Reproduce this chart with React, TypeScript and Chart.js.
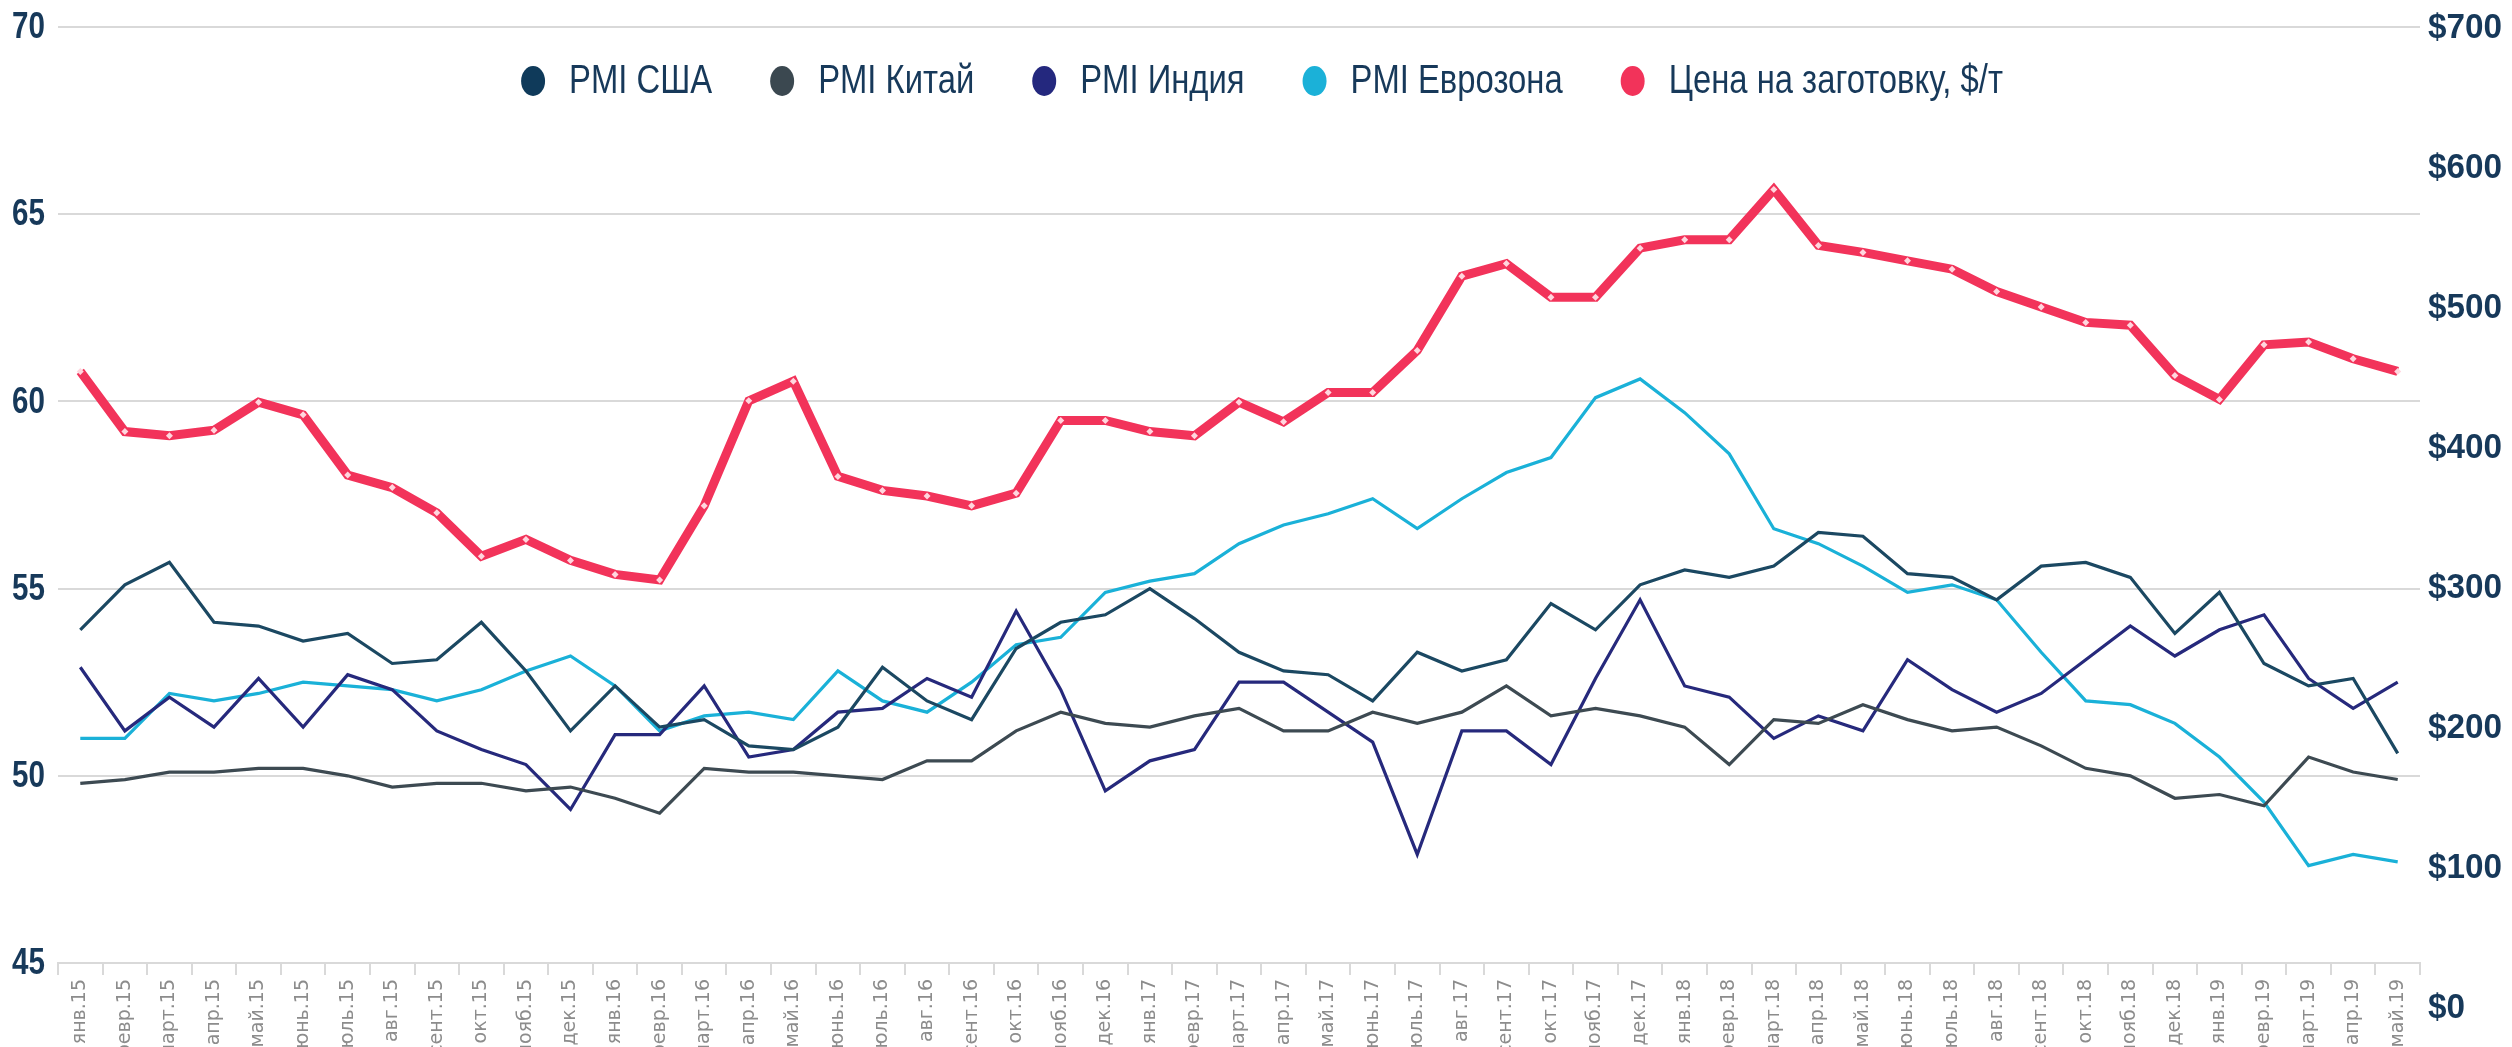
import React, { useEffect, useRef } from 'react';
import { Chart, registerables } from 'chart.js';

Chart.register(...registerables);

// ---------- data ----------
const months = [
  'янв.15', 'февр.15', 'март.15', 'апр.15', 'май.15', 'июнь.15', 'июль.15', 'авг.15', 'сент.15', 'окт.15', 'нояб.15', 'дек.15',
  'янв.16', 'февр.16', 'март.16', 'апр.16', 'май.16', 'июнь.16', 'июль.16', 'авг.16', 'сент.16', 'окт.16', 'нояб.16', 'дек.16',
  'янв.17', 'февр.17', 'март.17', 'апр.17', 'май.17', 'июнь.17', 'июль.17', 'авг.17', 'сент.17', 'окт.17', 'нояб.17', 'дек.17',
  'янв.18', 'февр.18', 'март.18', 'апр.18', 'май.18', 'июнь.18', 'июль.18', 'авг.18', 'сент.18', 'окт.18', 'нояб.18', 'дек.18',
  'янв.19', 'февр.19', 'март.19', 'апр.19', 'май.19',
];

const pmiUSA = [
  53.9, 55.1, 55.7, 54.1, 54.0, 53.6, 53.8, 53.0, 53.1, 54.1, 52.8, 51.2,
  52.4, 51.3, 51.5, 50.8, 50.7, 51.3, 52.9, 52.0, 51.5, 53.4, 54.1, 54.3,
  55.0, 54.2, 53.3, 52.8, 52.7, 52.0, 53.3, 52.8, 53.1, 54.6, 53.9, 55.1,
  55.5, 55.3, 55.6, 56.5, 56.4, 55.4, 55.3, 54.7, 55.6, 55.7, 55.3, 53.8,
  54.9, 53.0, 52.4, 52.6, 50.6,
];

const pmiChina = [
  49.8, 49.9, 50.1, 50.1, 50.2, 50.2, 50.0, 49.7, 49.8, 49.8, 49.6, 49.7,
  49.4, 49.0, 50.2, 50.1, 50.1, 50.0, 49.9, 50.4, 50.4, 51.2, 51.7, 51.4,
  51.3, 51.6, 51.8, 51.2, 51.2, 51.7, 51.4, 51.7, 52.4, 51.6, 51.8, 51.6,
  51.3, 50.3, 51.5, 51.4, 51.9, 51.5, 51.2, 51.3, 50.8, 50.2, 50.0, 49.4,
  49.5, 49.2, 50.5, 50.1, 49.9,
];

const pmiIndia = [
  52.9, 51.2, 52.1, 51.3, 52.6, 51.3, 52.7, 52.3, 51.2, 50.7, 50.3, 49.1,
  51.1, 51.1, 52.4, 50.5, 50.7, 51.7, 51.8, 52.6, 52.1, 54.4, 52.3, 49.6,
  50.4, 50.7, 52.5, 52.5, 51.7, 50.9, 47.9, 51.2, 51.2, 50.3, 52.6, 54.7,
  52.4, 52.1, 51.0, 51.6, 51.2, 53.1, 52.3, 51.7, 52.2, 53.1, 54.0, 53.2,
  53.9, 54.3, 52.6, 51.8, 52.5,
];

const pmiEurozone = [
  51.0, 51.0, 52.2, 52.0, 52.2, 52.5, 52.4, 52.3, 52.0, 52.3, 52.8, 53.2,
  52.4, 51.2, 51.6, 51.7, 51.5, 52.8, 52.0, 51.7, 52.5, 53.5, 53.7, 54.9,
  55.2, 55.4, 56.2, 56.7, 57.0, 57.4, 56.6, 57.4, 58.1, 58.5, 60.1, 60.6,
  59.7, 58.6, 56.6, 56.2, 55.6, 54.9, 55.1, 54.7, 53.3, 52.0, 51.9, 51.4,
  50.5, 49.3, 47.6, 47.9, 47.7,
];

const billetPrice = [
  454, 411, 408, 412, 432, 423, 380, 371, 353, 322, 334, 319,
  309, 305, 358, 433, 447, 379, 369, 365, 358, 367, 419, 419,
  411, 408, 432, 418, 439, 439, 469, 522, 531, 507, 507, 542,
  548, 548, 584, 544, 539, 533, 527, 511, 500, 489, 487, 451,
  434, 473, 475, 463, 454,
];

const seriesLabels = ['PMI США', 'PMI Китай', 'PMI Индия', 'PMI Еврозона', 'Цена на заготовку, $/т'];
const leftTicks = [45, 50, 55, 60, 65, 70];
const rightTicks = [0, 100, 200, 300, 400, 500, 600, 700];

// ---------- style ----------
const W = 2512;
const H = 1047;
const FONT = "'Liberation Sans', Arial, sans-serif";
const CONDENSE = 0.8;
const NAVY = '#17395a';
const GRID = '#d9d9d9';
const lineColors = ['#1b4862', '#3d4a52', '#26297c', '#1ab1d8', '#f2335a'];
const dotColors = ['#0f3a5a', '#3b4850', '#24287e', '#1bb1d8', '#f2335a'];
const PLOT_TOP = 27;
const PLOT_BOTTOM = 963;
const PLOT_LEFT = 58;
const PLOT_RIGHT = 2420;
const LEGEND_CENTER_X = W / 2 + 30;
const RIGHT_AXIS_MAX = 700;
// right axis: $0 label sits 44px below the plot floor (140px per $100)
const RIGHT_AXIS_BOTTOM = RIGHT_AXIS_MAX - (PLOT_BOTTOM - PLOT_TOP) / 1.4;

function condensedText(ctx: CanvasRenderingContext2D, text: string, x: number, y: number, k = CONDENSE) {
  ctx.save();
  ctx.translate(x, y);
  ctx.scale(k, 1);
  ctx.fillText(text, 0, 0);
  ctx.restore();
}

export default function App() {
  const ref = useRef<HTMLCanvasElement | null>(null);

  useEffect(() => {
    const canvas = ref.current;
    if (!canvas) return;

    const bgPlugin = {
      id: 'bg',
      beforeDraw(chart: any) {
        const ctx = chart.ctx;
        ctx.save();
        ctx.fillStyle = '#ffffff';
        ctx.fillRect(0, 0, chart.width, chart.height);
        ctx.restore();
      },
    };

    const axisLabels = {
      id: 'axisLabels',
      afterDraw(chart: any) {
        const ctx = chart.ctx;
        const sl = chart.scales.y;
        const sr = chart.scales.y1;
        ctx.save();
        ctx.font = `bold 37px ${FONT}`;
        ctx.fillStyle = NAVY;
        ctx.textBaseline = 'middle';
        ctx.textAlign = 'right';
        leftTicks.forEach((v) => condensedText(ctx, String(v), chart.chartArea.left - 13, sl.getPixelForValue(v) + 1));
        ctx.font = `bold 35px ${FONT}`;
        ctx.textAlign = 'left';
        const xr = chart.chartArea.right + 8;
        rightTicks.forEach((v) => condensedText(ctx, '$' + v, xr, sr.getPixelForValue(v) + 1, 0.95));
        ctx.restore();
      },
    };

    const legendPlugin = {
      id: 'customLegend',
      afterDraw(chart: any) {
        const ctx = chart.ctx;
        ctx.save();
        ctx.font = `41px ${FONT}`;
        ctx.textBaseline = 'middle';
        ctx.textAlign = 'left';
        const rx = 12;
        const ry = 15;
        const textGap = 36;
        const itemGap = 70;
        const ds = chart.data.datasets;
        const widths = ds.map((d: any) => ctx.measureText(d.label).width * CONDENSE);
        let total = 0;
        widths.forEach((w: number, i: number) => {
          total += rx + textGap + w + (i < widths.length - 1 ? itemGap : 0);
        });
        let x = LEGEND_CENTER_X - total / 2;
        const y = 81;
        ds.forEach((d: any, i: number) => {
          const cx = x + rx;
          ctx.fillStyle = dotColors[i];
          ctx.beginPath();
          ctx.ellipse(cx, y, rx, ry, 0, 0, Math.PI * 2);
          ctx.fill();
          ctx.fillStyle = NAVY;
          condensedText(ctx, d.label, cx + textGap, y + 1);
          x = cx + textGap + widths[i] + itemGap - rx;
        });
        ctx.restore();
      },
    };

    const pmiSet = (label: string, data: number[], color: string) => ({
      label,
      data,
      yAxisID: 'y',
      borderColor: color,
      backgroundColor: color,
      borderWidth: 3.2,
      pointRadius: 0,
      tension: 0,
      fill: false,
    });

    const chart = new Chart(canvas, {
      type: 'line',
      data: {
        labels: months,
        datasets: [
          pmiSet(seriesLabels[0], pmiUSA, lineColors[0]),
          pmiSet(seriesLabels[1], pmiChina, lineColors[1]),
          pmiSet(seriesLabels[2], pmiIndia, lineColors[2]),
          pmiSet(seriesLabels[3], pmiEurozone, lineColors[3]),
          {
            label: seriesLabels[4],
            data: billetPrice,
            yAxisID: 'y1',
            borderColor: lineColors[4],
            backgroundColor: '#ffd6de',
            borderWidth: 9,
            pointRadius: 3.5,
            pointStyle: 'rectRot',
            pointBorderWidth: 0,
            pointBackgroundColor: '#ffd6de',
            tension: 0,
            fill: false,
          },
        ],
      },
      options: {
        responsive: false,
        animation: false,
        devicePixelRatio: 1,
        layout: { padding: { top: PLOT_TOP, left: 0, right: 0, bottom: 0 } },
        plugins: {
          legend: { display: false },
          tooltip: { enabled: false },
        },
        scales: {
          x: {
            offset: true,
            grid: {
              display: true,
              drawOnChartArea: false,
              drawTicks: true,
              tickLength: 12,
              color: GRID,
              lineWidth: 2,
              offset: true,
            },
            border: { display: true, color: GRID, width: 2 },
            ticks: {
              autoSkip: false,
              minRotation: 90,
              maxRotation: 90,
              padding: 4,
              color: '#8c8c8c',
              font: { family: "'DejaVu Sans', sans-serif", size: 19 },
            },
            afterFit: (s: any) => {
              s.height = H - PLOT_BOTTOM;
            },
          },
          y: {
            position: 'left',
            min: leftTicks[0],
            max: leftTicks[leftTicks.length - 1],
            afterBuildTicks: (s: any) => {
              s.ticks = leftTicks.map((v) => ({ value: v }));
            },
            ticks: { display: false },
            grid: { color: GRID, lineWidth: 2, drawTicks: false },
            border: { display: false },
            afterFit: (s: any) => {
              s.width = PLOT_LEFT;
            },
          },
          y1: {
            position: 'right',
            min: RIGHT_AXIS_BOTTOM,
            max: RIGHT_AXIS_MAX,
            ticks: { display: false },
            grid: { display: false, drawTicks: false },
            border: { display: false },
            afterFit: (s: any) => {
              s.width = W - PLOT_RIGHT;
            },
          },
        },
      } as any,
      plugins: [bgPlugin, axisLabels, legendPlugin],
    });

    return () => {
      chart.destroy();
    };
  }, []);

  return (
    <div
      style={{
        position: 'fixed',
        left: 0,
        top: 0,
        width: W,
        height: H,
        overflow: 'hidden',
        background: '#ffffff',
      }}
    >
      <canvas ref={ref} width={W} height={H} style={{ display: 'block', width: W, height: H }} />
    </div>
  );
}
